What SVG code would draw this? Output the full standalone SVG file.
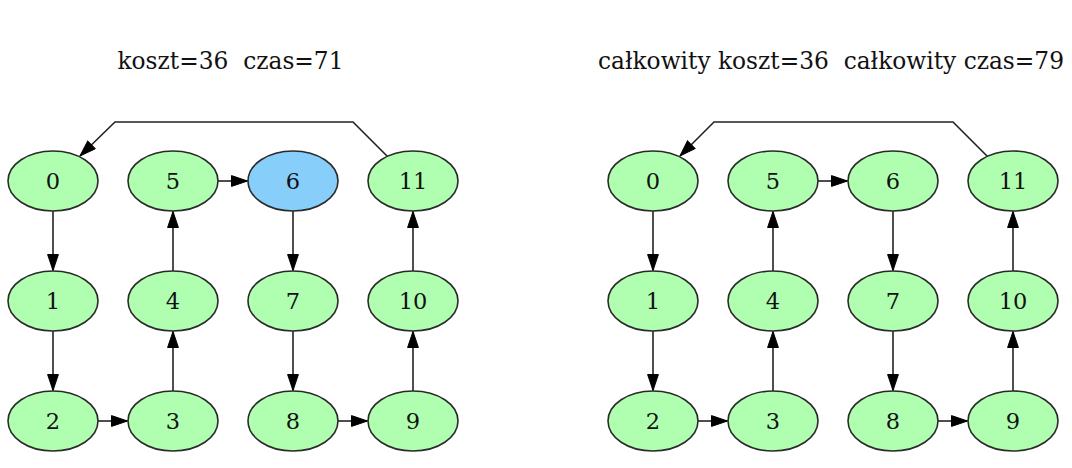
<svg xmlns="http://www.w3.org/2000/svg" width="1072" height="468" viewBox="0 0 1072 468">
<defs>
<marker id="ah" markerWidth="18" markerHeight="13" refX="16.5" refY="6" orient="auto" markerUnits="userSpaceOnUse">
<path d="M0.5,0.6 L16.5,6 L0.5,11.4 Z" fill="#000" stroke="#000" stroke-width="1"/>
</marker>
</defs>
<style>
.n ellipse{fill:#b0ffb0;stroke:#2a2a2a;stroke-width:1.6}
.n.b ellipse{fill:#87cefa}
text{font-family:"DejaVu Serif","Liberation Serif",serif;fill:#111}
.n text{font-size:22.5px;text-anchor:middle;dominant-baseline:central}
.t{font-size:23.3px;text-anchor:middle}
.e path{fill:none;stroke:#222;stroke-width:1.6;marker-end:url(#ah)}
</style>
<rect width="1072" height="468" fill="#fff"/>
<text class="t" x="230.5" y="69" xml:space="preserve">koszt=36  czas=71</text>
<text class="t" x="831" y="69" xml:space="preserve">całkowity koszt=36  całkowity czas=79</text>
<g class="e" id="edges">
<path d="M53,211 V270.5"/>
<path d="M53,331 V390.5"/>
<path d="M98,421 H127.5"/>
<path d="M173,391 V331.5"/>
<path d="M173,271 V211.5"/>
<path d="M218,181 H247.5"/>
<path d="M293,211 V270.5"/>
<path d="M293,331 V390.5"/>
<path d="M338,421 H367.5"/>
<path d="M413,391 V331.5"/>
<path d="M413,271 V211.5"/>
<path d="M388,157 L353,122 H115 L80,156"/>
<path d="M653,211 V270.5"/>
<path d="M653,331 V390.5"/>
<path d="M698,421 H727.5"/>
<path d="M773,391 V331.5"/>
<path d="M773,271 V211.5"/>
<path d="M818,181 H847.5"/>
<path d="M893,211 V270.5"/>
<path d="M893,331 V390.5"/>
<path d="M938,421 H967.5"/>
<path d="M1013,391 V331.5"/>
<path d="M1013,271 V211.5"/>
<path d="M988,157 L953,122 H714 L680,156"/>
</g>
<g class="n" id="a0"><ellipse cx="53" cy="181" rx="45" ry="30"/><text x="53" y="181">0</text></g>
<g class="n" id="a1"><ellipse cx="53" cy="301" rx="45" ry="30"/><text x="53" y="301">1</text></g>
<g class="n" id="a2"><ellipse cx="53" cy="421" rx="45" ry="30"/><text x="53" y="421">2</text></g>
<g class="n" id="a3"><ellipse cx="173" cy="421" rx="45" ry="30"/><text x="173" y="421">3</text></g>
<g class="n" id="a4"><ellipse cx="173" cy="301" rx="45" ry="30"/><text x="173" y="301">4</text></g>
<g class="n" id="a5"><ellipse cx="173" cy="181" rx="45" ry="30"/><text x="173" y="181">5</text></g>
<g class="n b" id="a6"><ellipse cx="293" cy="181" rx="45" ry="30"/><text x="293" y="181">6</text></g>
<g class="n" id="a7"><ellipse cx="293" cy="301" rx="45" ry="30"/><text x="293" y="301">7</text></g>
<g class="n" id="a8"><ellipse cx="293" cy="421" rx="45" ry="30"/><text x="293" y="421">8</text></g>
<g class="n" id="a9"><ellipse cx="413" cy="421" rx="45" ry="30"/><text x="413" y="421">9</text></g>
<g class="n" id="a10"><ellipse cx="413" cy="301" rx="45" ry="30"/><text x="413" y="301">10</text></g>
<g class="n" id="a11"><ellipse cx="413" cy="181" rx="45" ry="30"/><text x="413" y="181">11</text></g>
<g class="n" id="b0"><ellipse cx="653" cy="181" rx="45" ry="30"/><text x="653" y="181">0</text></g>
<g class="n" id="b1"><ellipse cx="653" cy="301" rx="45" ry="30"/><text x="653" y="301">1</text></g>
<g class="n" id="b2"><ellipse cx="653" cy="421" rx="45" ry="30"/><text x="653" y="421">2</text></g>
<g class="n" id="b3"><ellipse cx="773" cy="421" rx="45" ry="30"/><text x="773" y="421">3</text></g>
<g class="n" id="b4"><ellipse cx="773" cy="301" rx="45" ry="30"/><text x="773" y="301">4</text></g>
<g class="n" id="b5"><ellipse cx="773" cy="181" rx="45" ry="30"/><text x="773" y="181">5</text></g>
<g class="n" id="b6"><ellipse cx="893" cy="181" rx="45" ry="30"/><text x="893" y="181">6</text></g>
<g class="n" id="b7"><ellipse cx="893" cy="301" rx="45" ry="30"/><text x="893" y="301">7</text></g>
<g class="n" id="b8"><ellipse cx="893" cy="421" rx="45" ry="30"/><text x="893" y="421">8</text></g>
<g class="n" id="b9"><ellipse cx="1013" cy="421" rx="45" ry="30"/><text x="1013" y="421">9</text></g>
<g class="n" id="b10"><ellipse cx="1013" cy="301" rx="45" ry="30"/><text x="1013" y="301">10</text></g>
<g class="n" id="b11"><ellipse cx="1013" cy="181" rx="45" ry="30"/><text x="1013" y="181">11</text></g>
</svg>
